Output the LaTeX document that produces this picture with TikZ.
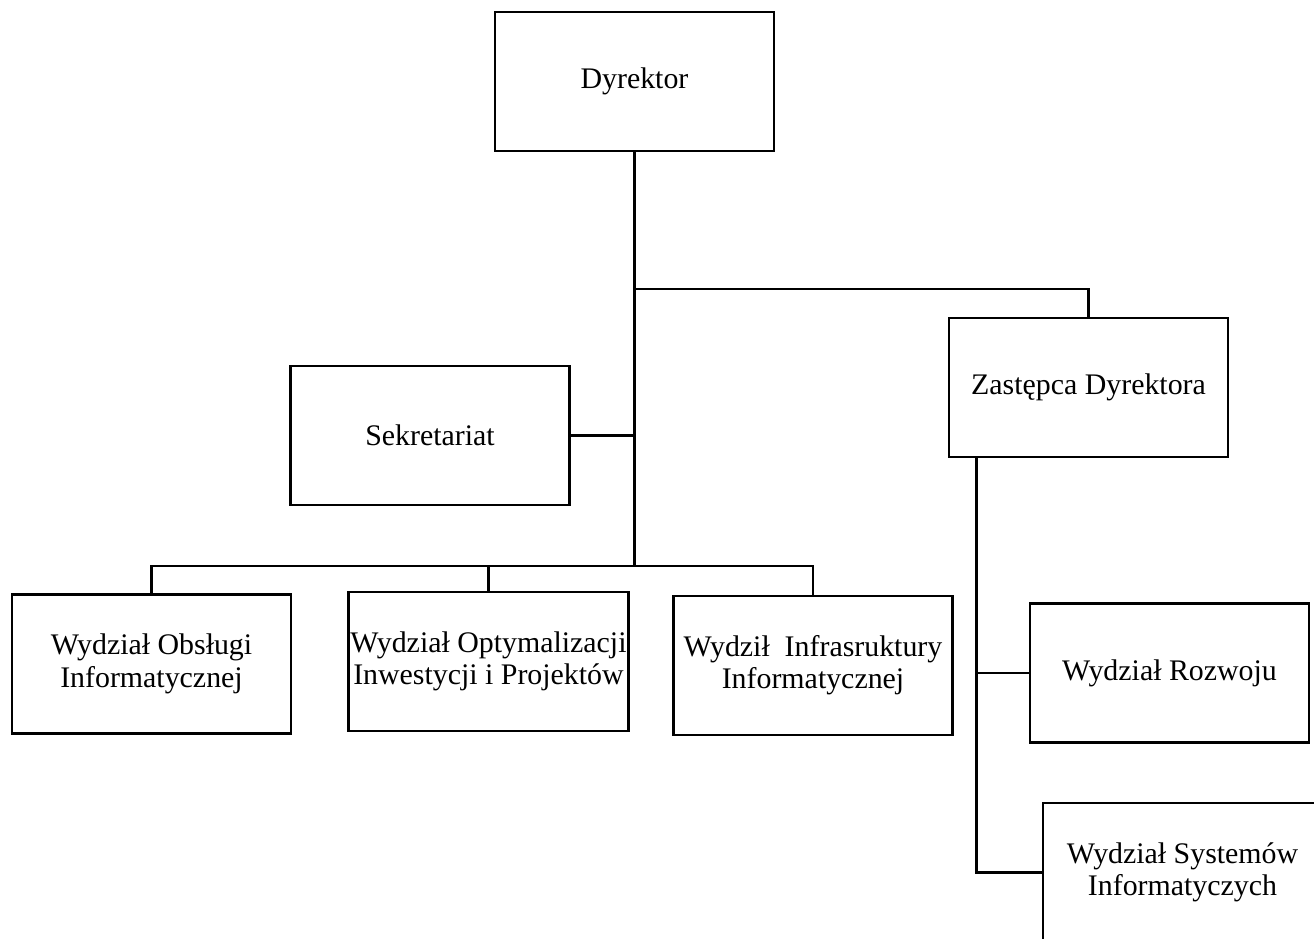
\documentclass[tikz,border=0pt]{standalone}
\usepackage{fontspec}
\setmainfont{Liberation Serif}
\usepackage{tikz}
\usetikzlibrary{positioning}

\tikzset{
  unit/.style={draw, line width=1.6pt, fill=white, align=center,
    minimum width=5.58cm, minimum height=2.78cm, inner sep=1pt,
    font=\fontsize{17}{18.4}\selectfont},
  link/.style={line width=1.6pt}
}

\begin{document}
\begin{tikzpicture}
        \useasboundingbox (0,0) rectangle (26.28,-18.76);
        \clip (0,0) rectangle (26.28,-18.76);
        % boxes
        \node[unit] (dyr) at (12.69,-1.63) {Dyrektor};
        \node[unit] (sek) at (8.60,-8.71) {Sekretariat};
        \node[unit] (zas) at (21.77,-7.75) {Zastępca Dyrektora};
        \node[unit] (obs) at (3.03,-13.28) {Wydział Obsługi\\Informatycznej};
        \node[unit] (opt) at (9.77,-13.23) {Wydział Optymalizacji\\Inwestycji i Projektów};
        \node[unit] (inf) at (16.26,-13.31) {Wydził~ Infrasruktury\\Informatycznej};
        \node[unit] (roz) at (23.39,-13.46) {Wydział Rozwoju};
        \node[unit] (sys) at (23.65,-17.45) {Wydział Systemów\\Informatyczych};
        % lines
        \coordinate (bus) at (12.69,-11.32);
        \coordinate (zbus) at (12.69,-5.78);
        \coordinate (zdown) at ([xshift=0.58cm]zas.south west);
        \draw[link, line width=2pt] (dyr.south) -- (bus);
        \draw[link] (zbus) -| (zas.north);
        \draw[link] (sek.east) -- (sek.east -| bus);
        \draw[link] (obs.north) |- (bus) -| (inf.north);
        \draw[link] (opt.north) |- (bus);
        \draw[link] (zdown) |- (roz.west);
        \draw[link] (zdown) |- (sys.west);
\end{tikzpicture}
\end{document}
